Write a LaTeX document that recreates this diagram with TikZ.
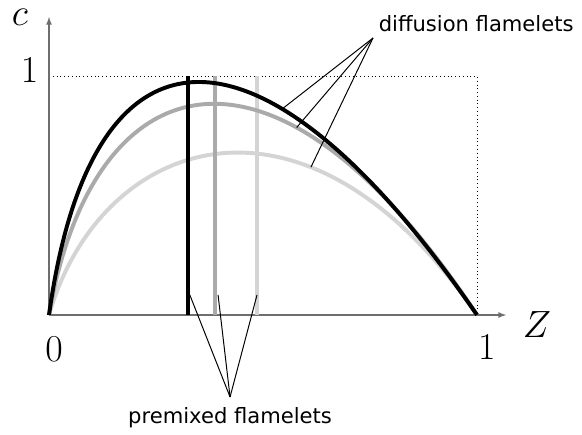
\documentclass[tikz,border=0pt]{standalone}
\usepackage{fix-cm}
\usepackage{fontspec}
\newfontfamily\labelfont{DejaVu Sans}
\usepackage{tikz}
\usetikzlibrary{arrows,calc}
\definecolor{flamegrey}{HTML}{AAAAAA}
\definecolor{flamelight}{HTML}{D4D4D4}
\definecolor{axisgrey}{HTML}{6E6E6E}

\begin{document}
\begin{tikzpicture}[x=10.7cm, y=5.975cm,
    axis/.style={draw=axisgrey, line width=0.9pt, -latex},
    guide/.style={dotted, line width=0.7pt},
    flamelet/.style={line width=2.8pt},
    leader/.style={line width=0.7pt},
    num/.style={font=\fontsize{27}{30}\selectfont, inner sep=0pt},
    caption/.style={font=\labelfont\fontsize{15}{17}\selectfont, inner sep=0pt}
]
    \useasboundingbox (-0.1145,-0.4979) rectangle (1.2453,1.318);

    % Axes and limits
    \coordinate (o) at (0,0);
    \coordinate (zend) at (1.068,0);
    \coordinate (cend) at (0,1.247);
    \draw[guide] (0,1) -- (1,1) -- (1,0);
    \draw[axis] (o) -- (zend);
    \draw[axis] (o) -- (cend);
    \node[num] (zlabel) at (1.140,-0.038) {$Z$};
    \node[num] (clabel) at (-0.068,1.246) {$c$};
    \node[num] (cone) at (-0.0456,1.023) {$1$};
    \node[num] (zzero) at (0.0117,-0.142) {$0$};
    \node[num] (zone) at (1.023,-0.134) {$1$};

    % Light flamelets
    \draw[flamelet, flamelight] (0,0) .. controls (0.12,0.75) and (0.6,1.05) .. coordinate[pos=0.685] (diflight) (1,0);
    \draw[flamelet, flamelight] (0.486,0) -- (0.486,1);

    % Grey flamelets
    \draw[flamelet, flamegrey] (0,0) .. controls (0.1,1.05) and (0.52,1.3) .. coordinate[pos=0.69] (difgrey) (1,0);
    \draw[flamelet, flamegrey] (0.388,0) -- (0.388,1);

    % Black flamelets
    \draw[flamelet] (0,0) .. controls (0.1,1.3) and (0.5,1.3) .. coordinate[pos=0.67] (difblack) (1,0);
    \draw[flamelet] (0.324,0) -- (0.324,1);

    % Labels
    \node[caption] (diflabel) at (0.998,1.218) {diffusion flamelets};
    \node[caption] (pmlabel) at (0.423,-0.431) {premixed flamelets};
    \coordinate (difhub) at (0.757,1.159);
    \coordinate (pmhub) at (0.423,-0.343);
    \coordinate (pmblack) at (0.329,0.084);
    \coordinate (pmgrey) at (0.395,0.084);
    \coordinate (pmlight) at (0.486,0.084);

    % Leaders
    \draw[leader] (difhub) -- (difblack);
    \draw[leader] (difhub) -- (difgrey);
    \draw[leader] (difhub) -- (diflight);
    \draw[leader] (pmhub) -- (pmblack);
    \draw[leader] (pmhub) -- (pmgrey);
    \draw[leader] (pmhub) -- (pmlight);

\end{tikzpicture}
\end{document}
